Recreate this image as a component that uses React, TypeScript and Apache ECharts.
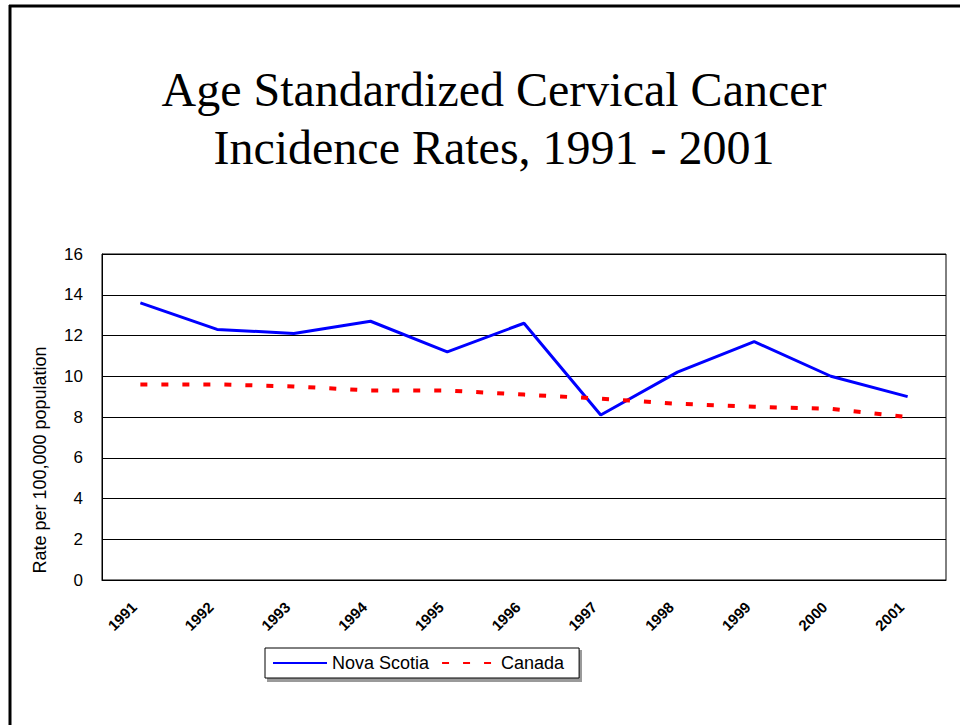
import React, { useEffect, useRef } from "react";
import * as echarts from "echarts";

const years = ["1991", "1992", "1993", "1994", "1995", "1996", "1997", "1998", "1999", "2000", "2001"];
const novaScotia = [13.6, 12.3, 12.1, 12.7, 11.2, 12.6, 8.1, 10.2, 11.7, 10.0, 9.0];
const canada = [9.6, 9.6, 9.5, 9.3, 9.3, 9.1, 8.9, 8.65, 8.5, 8.4, 8.0];
const yTicks = { min: 0, max: 16, interval: 2 };
const titleLines = ["Age Standardized Cervical Cancer", "Incidence Rates, 1991 - 2001"];
const yAxisName = "Rate per 100,000 population";
const seriesNames = ["Nova Scotia", "Canada"];

export default function App() {
  const ref = useRef<HTMLDivElement>(null);
  useEffect(() => {
    if (!ref.current) return;
    const chart = echarts.init(ref.current, null, { renderer: "svg" });
    const sans = "'Liberation Sans', Arial, sans-serif";
    chart.setOption({
      animation: false,
      backgroundColor: "#ffffff",
      grid: {
        left: 102,
        right: 14,
        top: 254,
        bottom: 145,
        show: true,
        borderColor: "#000",
        borderWidth: 1,
        containLabel: false,
      },
      xAxis: {
        type: "category",
        data: years,
        boundaryGap: true,
        axisLine: { show: true, lineStyle: { color: "#000", width: 1 } },
        axisTick: { show: false },
        axisLabel: {
          rotate: 45,
          margin: 18,
          color: "#000",
          fontFamily: sans,
          fontWeight: "bold",
          fontSize: 15,
          interval: 0,
          padding: [0, 9, 0, 0],
        },
        splitLine: { show: false },
      },
      yAxis: {
        type: "value",
        min: yTicks.min,
        max: yTicks.max,
        interval: yTicks.interval,
        axisLine: { show: true, lineStyle: { color: "#000", width: 1 } },
        axisTick: { show: false },
        axisLabel: { color: "#000", fontFamily: sans, fontSize: 17, margin: 19 },
        splitLine: { show: true, lineStyle: { color: "#000", width: 1 } },
      },
      legend: {
        left: 265,
        top: 648,
        orient: "horizontal",
        data: seriesNames,
        itemWidth: 54,
        itemHeight: 14,
        itemGap: 12,
        padding: [6, 15, 6, 7],
        borderColor: "#000",
        borderWidth: 1,
        backgroundColor: "#ffffff",
        itemStyle: { opacity: 0 },
        textStyle: { color: "#000", fontFamily: sans, fontSize: 18 },
        z: 10,
      },
      graphic: [
        { type: "line", shape: { x1: 10, y1: 5, x2: 10, y2: 725 }, style: { stroke: "#000", lineWidth: 3 } },
        { type: "line", shape: { x1: 9, y1: 6, x2: 960, y2: 6 }, style: { stroke: "#000", lineWidth: 3 } },
        {
          type: "rect",
          z: 1,
          shape: { x: 267, y: 650, width: 315, height: 32 },
          style: { fill: "#9a9a9a" },
        },
        {
          type: "text",
          x: 494,
          y: 60,
          style: {
            text: titleLines.join("\n"),
            fontFamily: "'Liberation Serif', 'Times New Roman', serif",
            fontSize: 48,
            lineHeight: 58,
            fill: "#000",
            textAlign: "center",
            textVerticalAlign: "top",
          },
        },
        {
          type: "text",
          x: 40,
          y: 460,
          rotation: Math.PI / 2,
          style: {
            text: yAxisName,
            fontFamily: sans,
            fontSize: 18,
            fill: "#000",
            textAlign: "center",
            textVerticalAlign: "middle",
          },
        },
      ],
      series: [
        {
          name: seriesNames[0],
          type: "line",
          data: novaScotia,
          symbol: "none",
          showSymbol: false,
          lineStyle: { color: "#0000ff", width: 3 },
          itemStyle: { color: "#0000ff" },
        },
        {
          name: seriesNames[1],
          type: "line",
          data: canada,
          symbol: "none",
          showSymbol: false,
          lineStyle: { color: "#ff0000", width: 4, type: [7, 14] },
          itemStyle: { color: "#ff0000" },
        },
      ],
    });
    return () => chart.dispose();
  }, []);
  return <div ref={ref} style={{ position: "fixed", left: 0, top: 0, width: 960, height: 725 }} />;
}
